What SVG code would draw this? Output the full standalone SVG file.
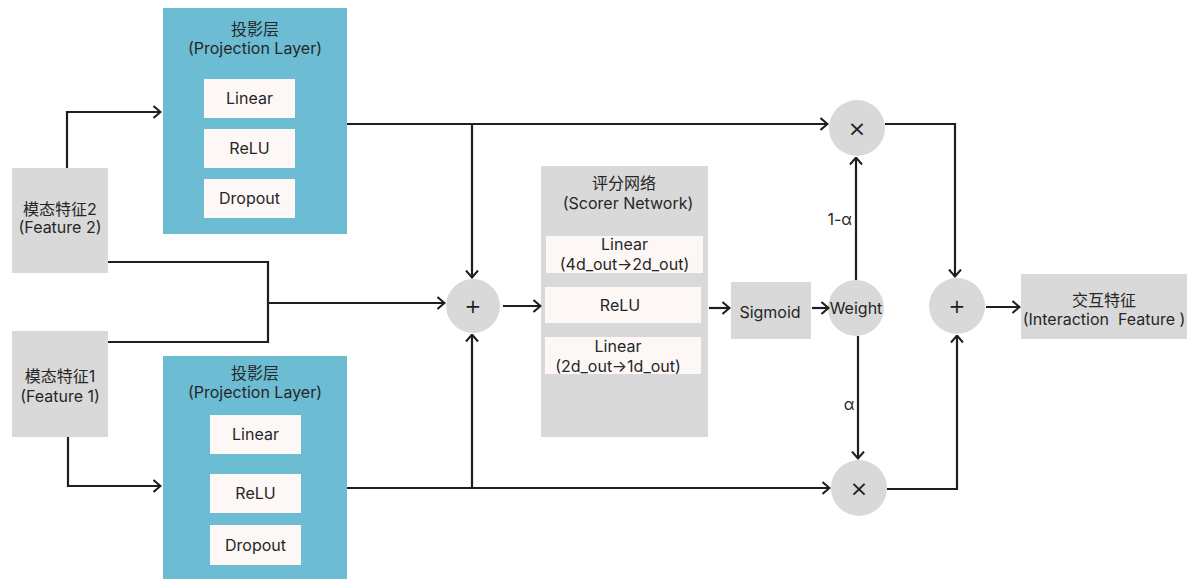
<svg xmlns="http://www.w3.org/2000/svg" width="1191" height="579" viewBox="0 0 1191 579">
<defs>
<marker id="arr" viewBox="0 0 9 14" refX="8.5" refY="7" markerWidth="9" markerHeight="14" markerUnits="userSpaceOnUse" orient="auto">
<path d="M1,1 L8,7 L1,13" fill="none" stroke="#1e1e1e" stroke-width="2"/>
</marker>
<style>
.t{font-family:Inter,"Noto Sans","Noto Sans CJK SC",sans-serif;font-size:16px;fill:#262626;text-anchor:middle}
.blue{fill:#6cbdd4}
.gray{fill:#d9d9d9}
.white{fill:#fdf8f6}
.c{fill:#d9d9d9}
.ln{fill:none;stroke:#1e1e1e;stroke-width:2.2}
.op{font-family:"DejaVu Sans",sans-serif;fill:#1e1e1e;text-anchor:middle}
</style>
</defs>
<rect width="1191" height="579" fill="#ffffff"/>

<g id="proj-top">
<rect class="blue" x="163" y="8" width="184" height="226"/>
<text class="t" x="255" y="35">投影层</text>
<text class="t" x="255" y="54">(Projection Layer)</text>
<rect class="white" x="204" y="79" width="91" height="39"/>
<text class="t" x="249.5" y="104">Linear</text>
<rect class="white" x="204" y="129" width="91" height="39"/>
<text class="t" x="249.5" y="154">ReLU</text>
<rect class="white" x="204" y="179" width="91" height="39"/>
<text class="t" x="249.5" y="204">Dropout</text>
</g>

<g id="proj-bottom">
<rect class="blue" x="163" y="356" width="184" height="223"/>
<text class="t" x="255" y="379">投影层</text>
<text class="t" x="255" y="398">(Projection Layer)</text>
<rect class="white" x="210" y="415" width="91" height="39"/>
<text class="t" x="255.5" y="440">Linear</text>
<rect class="white" x="210" y="474" width="91" height="39"/>
<text class="t" x="255.5" y="499">ReLU</text>
<rect class="white" x="210" y="525" width="91" height="40"/>
<text class="t" x="255.5" y="551">Dropout</text>
</g>

<g id="feature2">
<rect class="gray" x="12" y="168" width="96" height="105"/>
<text class="t" x="60" y="215">模态特征2</text>
<text class="t" x="60" y="233">(Feature 2)</text>
</g>

<g id="feature1">
<rect class="gray" x="12" y="331" width="96" height="106"/>
<text class="t" x="60" y="382">模态特征1</text>
<text class="t" x="60" y="402">(Feature 1)</text>
</g>

<g id="add1">
<circle class="c" cx="473" cy="306" r="27"/>
<text class="op" x="473" y="313" font-size="20">+</text>
</g>

<g id="scorer">
<rect class="gray" x="541" y="166" width="167" height="271"/>
<text class="t" x="624" y="189">评分网络</text>
<text class="t" x="628" y="209">(Scorer Network)</text>
<rect class="white" x="546" y="236" width="157" height="37"/>
<text class="t" x="624.5" y="250">Linear</text>
<text class="t" x="624.5" y="270">(4d_out→2d_out)</text>
<rect class="white" x="545" y="287" width="156" height="36"/>
<text class="t" x="620" y="311">ReLU</text>
<rect class="white" x="545" y="337" width="156" height="37"/>
<text class="t" x="618" y="352">Linear</text>
<text class="t" x="618" y="372">(2d_out→1d_out)</text>
</g>

<g id="sigmoid">
<rect class="gray" x="731" y="282" width="80" height="57"/>
<text class="t" x="770" y="318">Sigmoid</text>
</g>

<g id="weight">
<circle class="c" cx="856" cy="308" r="28"/>
<text class="t" x="856" y="314">Weight</text>
</g>

<g id="mul-top">
<circle class="c" cx="857" cy="128" r="28"/>
<text class="op" x="857" y="136" font-size="22">×</text>
</g>

<g id="mul-bottom">
<circle class="c" cx="859" cy="488" r="28"/>
<text class="op" x="859" y="496" font-size="22">×</text>
</g>

<g id="add2">
<circle class="c" cx="957" cy="306" r="28"/>
<text class="op" x="957" y="313" font-size="20">+</text>
</g>

<g id="interaction">
<rect class="gray" x="1021" y="274" width="166" height="65"/>
<text class="t" x="1104" y="306">交互特征</text>
<text class="t" x="1104" y="325" style="white-space:pre">(Interaction  Feature )</text>
</g>

<g id="connectors">
<path class="ln" d="M67,168 V112 H161" marker-end="url(#arr)"/>
<path class="ln" d="M68,437 V486 H161" marker-end="url(#arr)"/>
<path class="ln" d="M108,262 H268 V342 H108"/>
<path class="ln" d="M268,303 H445" marker-end="url(#arr)"/>
<path class="ln" d="M347,124 H828" marker-end="url(#arr)"/>
<path class="ln" d="M472,124 V278" marker-end="url(#arr)"/>
<path class="ln" d="M347,488 H830" marker-end="url(#arr)"/>
<path class="ln" d="M472,488 V334" marker-end="url(#arr)"/>
<path class="ln" d="M503,306 H541" marker-end="url(#arr)"/>
<path class="ln" d="M709,308 H730" marker-end="url(#arr)"/>
<path class="ln" d="M812,308 H829" marker-end="url(#arr)"/>
<path class="ln" d="M856,280 V157" marker-end="url(#arr)"/>
<path class="ln" d="M858,336 V459" marker-end="url(#arr)"/>
<path class="ln" d="M885,124 H955 V277" marker-end="url(#arr)"/>
<path class="ln" d="M887,489 H957 V335" marker-end="url(#arr)"/>
<path class="ln" d="M986,307 H1020" marker-end="url(#arr)"/>
<text class="t" x="852" y="225" style="text-anchor:end">1-α</text>
<text class="t" x="849" y="410">α</text>
</g>
</svg>
